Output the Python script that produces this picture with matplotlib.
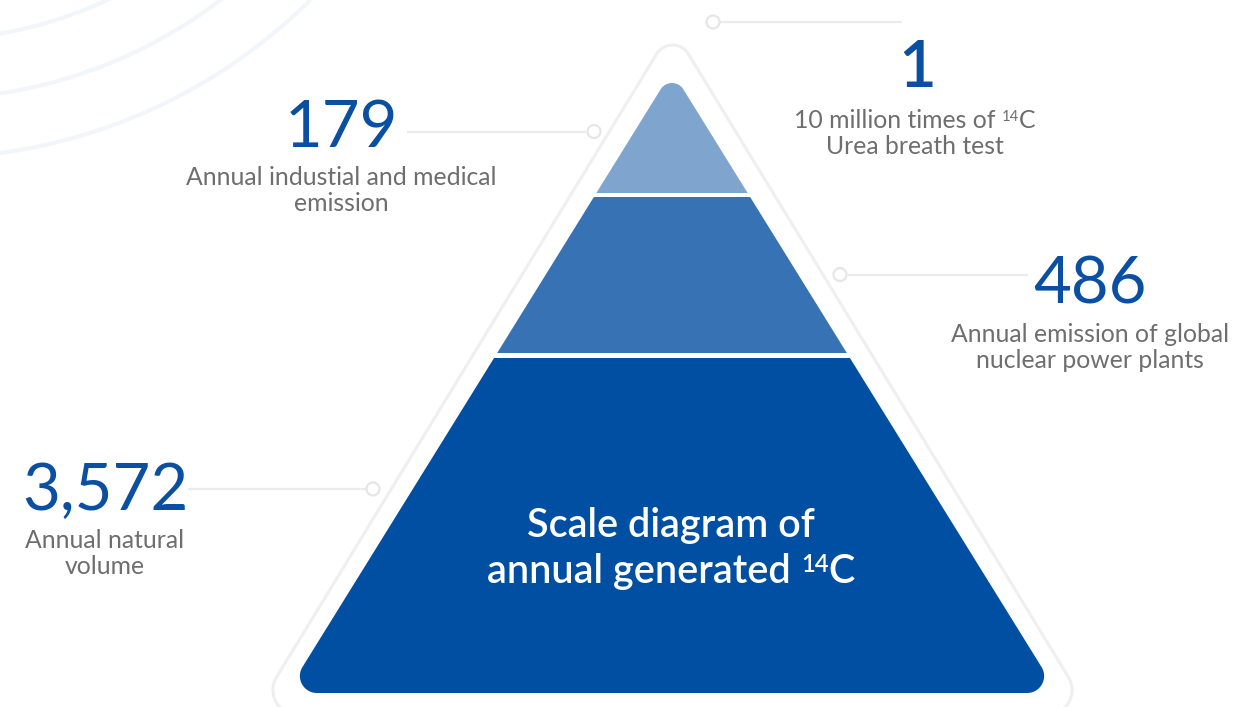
import numpy as np
import matplotlib
matplotlib.use("Agg")
import matplotlib.pyplot as plt
from matplotlib.patches import Polygon, Rectangle, Circle

plt.rcParams['font.family'] = ['Lato', 'DejaVu Sans']

# 数据 (带上标的行写成 (前, 上标, 后))
values = ['1', '179', '486', '3,572']
labels = [[('10 million times of ', '14', 'C'), 'Urea breath test'],
          ['Annual industial and medical', 'emission'],
          ['Annual emission of global', 'nuclear power plants'],
          ['Annual natural', 'volume']]
title_lines = ['Scale diagram of', ('annual generated ', '14', 'C')]

# 颜色
layer_colors = ['#7fa5ce', '#3672b4', '#004fa2']
num_color = '#0a4fa2'
txt_color = '#6e6e6e'
line_color = '#ebebeb'

# 画布: 像素坐标
W, H = 1238, 707
fig = plt.figure(figsize=(W / 100, H / 100), dpi=100)
ax = fig.add_axes([0, 0, 1, 1])
ax.set_xlim(0, W)
ax.set_ylim(H, 0)
ax.axis('off')
renderer = fig.canvas.get_renderer()


def rounded_poly(pts, radii, n=40):
    """多边形圆角"""
    out = []
    N = len(pts)
    for i in range(N):
        p0, p1, p2 = np.array(pts[i - 1], float), np.array(pts[i], float), np.array(pts[(i + 1) % N], float)
        r = radii[i]
        v1 = (p0 - p1) / np.linalg.norm(p0 - p1)
        v2 = (p2 - p1) / np.linalg.norm(p2 - p1)
        ang = np.arccos(np.clip(np.dot(v1, v2), -1, 1))
        d = r / np.tan(ang / 2)
        t1, t2 = p1 + v1 * d, p1 + v2 * d
        bis = (v1 + v2) / np.linalg.norm(v1 + v2)
        c = p1 + bis * (r / np.sin(ang / 2))
        a1 = np.arctan2(*(t1 - c)[::-1])
        a2 = np.arctan2(*(t2 - c)[::-1])
        da = (a2 - a1 + np.pi) % (2 * np.pi) - np.pi
        s = np.linspace(0, 1, n)
        out.extend(np.column_stack([c[0] + r * np.cos(a1 + da * s), c[1] + r * np.sin(a1 + da * s)]))
    return np.array(out)


def put_line(x, y, line, size, color, weight='normal'):
    """居中写一行, 元组表示带上标"""
    if isinstance(line, str):
        ax.text(x, y, line, fontsize=size, color=color, fontweight=weight,
                ha='center', va='baseline', zorder=5)
        return
    pre, sup, post = line
    em = size * 100 / 72
    parts = [(pre, size, 0), (sup, size * 0.6, -0.29 * em), (post, size, 0)]
    texts = [ax.text(0, y + dy, s, fontsize=fs, color=color, fontweight=weight,
                     ha='left', va='baseline', zorder=5) for s, fs, dy in parts]
    widths = [t.get_window_extent(renderer).width for t in texts]
    x0 = x - sum(widths) / 2
    for t, w in zip(texts, widths):
        t.set_x(x0)
        x0 += w


# 背景弧线
for r in [426, 485, 544]:
    ax.add_patch(Circle((-73, -386), r, fill=False, ec='#f2f6fb', lw=3, zorder=0))

# 外框三角
cx = 672.5
k = 0.61
outer = [(cx, 28), (cx + k * 687, 715), (cx - k * 687, 715)]
ax.add_patch(Polygon(rounded_poly(outer, [18.5, 25, 25]), closed=True, fill=False,
                     ec='#efefef', lw=2.2, zorder=1))

# 金字塔
k2 = 0.62
tri = [(672, 71), (672 + k2 * 622, 693), (672 - k2 * 622, 693)]
tri_pts = rounded_poly(tri, [13.4, 17, 17])
bands = [(0, 192.7), (196.7, 353.3), (357.7, 707)]
for (y0, y1), col in zip(bands, layer_colors):
    p = Polygon(tri_pts, closed=True, fc=col, ec='none', zorder=2)
    ax.add_patch(p)
    clip = Rectangle((0, y0), W, y1 - y0, transform=ax.transData)
    p.set_clip_path(clip)

# 引线与圆点
leaders = [((720, 902), 22, (713, 22)),
           ((407, 586), 131.5, (594, 131.5)),
           ((848, 1028), 274.5, (840, 274.5)),
           ((188, 366), 489, (373, 489))]
for (x0, x1), y, c in leaders:
    ax.plot([x0, x1], [y, y], color=line_color, lw=1.6, solid_capstyle='butt', zorder=3)
    ax.add_patch(Circle(c, 6.5, fc='white', ec='#e6e6e6', lw=1.6, zorder=4))

# 数字与说明
num_xy = [(917, 87), (341, 147), (1090, 303), (105, 510)]
lab_xy = [(915, 128), (341, 185), (1090, 342), (105, 548)]
for i, (v, lab) in enumerate(zip(values, labels)):
    ax.text(num_xy[i][0], num_xy[i][1], v, fontsize=47, color=num_color,
            ha='center', va='baseline', fontweight='semibold' if i == 0 else 'normal', zorder=5)
    for j, line in enumerate(lab):
        put_line(lab_xy[i][0], lab_xy[i][1] + j * 26, line, 17.8, txt_color)

# 中间标题
for j, line in enumerate(title_lines):
    put_line(671, 537 + j * 46, line, 28.5, 'white', weight='semibold')

fig.savefig('out.png', dpi=100, facecolor='white')
